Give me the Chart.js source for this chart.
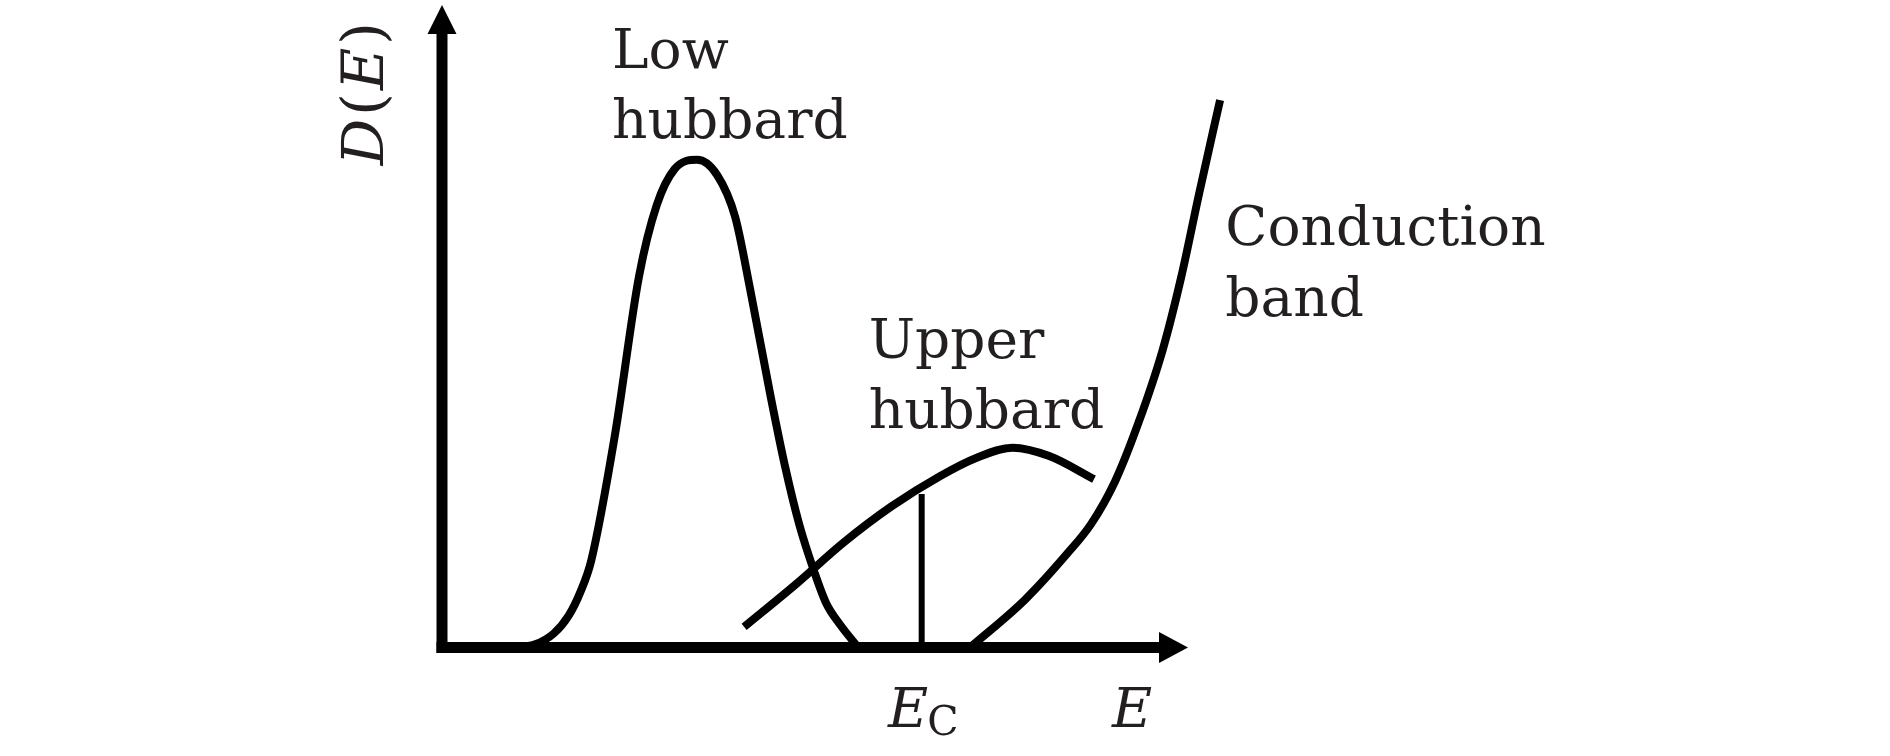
<!DOCTYPE html>
<html>
<head>
<meta charset="utf-8">
<title>D(E) sketch</title>
<script src="https://cdn.jsdelivr.net/npm/chart.js@4.4.0/dist/chart.umd.min.js"></script>
<style>
    html, body { margin: 0; padding: 0; background: #fff; }
</style>
</head>
<body>
<canvas id="dosChart" width="1890" height="756"></canvas>
<script>
// energy (x) and density of states (y), arbitrary units
var lowE = [0.99, 1.25, 1.50, 1.70, 1.85, 2.00, 2.32, 2.64, 2.88, 3.12, 3.42, 3.69, 3.93, 4.13, 4.41, 4.60, 4.79, 4.99, 5.15, 5.34, 5.58];
var lowD = [0, 0.05, 0.22, 0.50, 0.85, 1.35, 3.32, 5.77, 6.89, 7.45, 7.59, 7.35, 6.70, 5.58, 3.88, 2.81, 1.91, 1.18, 0.69, 0.35, 0];

var upperE = [4.05, 4.75, 5.39, 6.03, 6.68, 7.16, 7.65, 8.14, 8.74];
var upperD = [0.32, 0.99, 1.64, 2.20, 2.67, 2.95, 3.11, 2.98, 2.62];

var condE = [7.08, 7.82, 8.38, 8.70, 9.02, 9.34, 9.66, 9.91, 10.15, 10.43];
var condD = [0, 0.75, 1.46, 1.92, 2.58, 3.51, 4.63, 5.77, 7.07, 8.52];

var ecE = [6.43, 6.43];
var ecD = [0, 2.39];

// where the axis arrows end
var axisEndE = 10;
var axisEndD = 10;

function pts(xs, ys) {
    return xs.map(function(v, i) { return {x: v, y: ys[i]}; });
}

var textFont = '55px "DejaVu Serif"';
var mathFont = 'italic 55px "DejaVu Serif"';
var ink = '#231f20';

// labels: anchor in data units (left edge, baseline)
var notes = [
    {text: 'Low', x: 2.28, y: 9.02},
    {text: 'hubbard', x: 2.28, y: 7.93},
    {text: 'Upper', x: 5.72, y: 4.51},
    {text: 'hubbard', x: 5.72, y: 3.42},
    {text: 'Conduction', x: 10.50, y: 6.26},
    {text: 'band', x: 10.50, y: 5.16}
];

var sketchPlugin = {
    id: 'sketch',
    afterDatasetsDraw: function(chart) {
        var ctx = chart.ctx;
        var xs = chart.scales.x, ys = chart.scales.y;
        var x0 = xs.getPixelForValue(0), y0 = ys.getPixelForValue(0);
        var xEnd = xs.getPixelForValue(axisEndE), yEnd = ys.getPixelForValue(axisEndD);

        ctx.save();
        ctx.fillStyle = '#000';
        ctx.strokeStyle = '#000';
        ctx.lineWidth = 11;
        ctx.lineCap = 'butt';

        // y axis with arrow
        ctx.beginPath();
        ctx.moveTo(x0, y0 + 5.5);
        ctx.lineTo(x0, yEnd + 27);
        ctx.stroke();
        ctx.beginPath();
        ctx.moveTo(x0, yEnd);
        ctx.lineTo(x0 - 14.5, yEnd + 29);
        ctx.lineTo(x0 + 14.5, yEnd + 29);
        ctx.closePath();
        ctx.fill();

        // x axis with arrow
        ctx.beginPath();
        ctx.moveTo(x0 - 5.5, y0);
        ctx.lineTo(xEnd - 27, y0);
        ctx.stroke();
        ctx.beginPath();
        ctx.moveTo(xEnd, y0);
        ctx.lineTo(xEnd - 29, y0 - 15.5);
        ctx.lineTo(xEnd - 29, y0 + 15.5);
        ctx.closePath();
        ctx.fill();

        // band labels
        ctx.fillStyle = ink;
        ctx.textAlign = 'left';
        ctx.textBaseline = 'alphabetic';
        ctx.font = textFont;
        notes.forEach(function(n) {
            ctx.fillText(n.text, xs.getPixelForValue(n.x), ys.getPixelForValue(n.y));
        });

        // x axis labels: E_C under the marker, E at the arrow
        var base = ys.getPixelForValue(-1.24);
        var ecX = xs.getPixelForValue(5.98);
        ctx.font = mathFont;
        ctx.fillText('E', ecX, base);
        var w = ctx.measureText('E').width;
        ctx.font = '41px "DejaVu Serif"';
        ctx.fillText('C', ecX + w - 1, base + 8);
        ctx.font = mathFont;
        ctx.fillText('E', xs.getPixelForValue(8.98), base);

        // y axis label D(E), rotated
        var big = 'italic 58px "DejaVu Serif"', bigUp = '58px "DejaVu Serif"';
        var parts = [['D', big], ['(', bigUp], ['E', big], [')', bigUp]];
        var gap = 3, total = -gap;
        parts.forEach(function(p) { ctx.font = p[1]; p.push(ctx.measureText(p[0]).width); total += p[2] + gap; });
        ctx.translate(xs.getPixelForValue(-0.79), ys.getPixelForValue(8.62));
        ctx.rotate(-Math.PI / 2);
        var cx = -total / 2;
        parts.forEach(function(p) {
            ctx.font = p[1];
            ctx.fillText(p[0], cx, 0);
            cx += p[2] + gap;
        });
        ctx.restore();
    }
};

function curve(data, width) {
    return {
        data: data,
        showLine: true,
        borderColor: '#000',
        borderWidth: width,
        pointRadius: 0,
        pointHoverRadius: 0,
        fill: false,
        clip: false,
        cubicInterpolationMode: 'monotone',
        borderCapStyle: 'butt',
        borderJoinStyle: 'round'
    };
}

var ecLine = curve(pts(ecE, ecD), 6);
ecLine.cubicInterpolationMode = 'default';
ecLine.tension = 0;

var ctx = document.getElementById('dosChart').getContext('2d');
var dosChart = new Chart(ctx, {
    type: 'scatter',
    data: {
        datasets: [
            curve(pts(lowE, lowD), 8),
            curve(pts(upperE, upperD), 8),
            curve(pts(condE, condD), 8),
            ecLine
        ]
    },
    options: {
        responsive: false,
        animation: false,
        devicePixelRatio: 1,
        events: [],
        layout: {
            // x runs 0..12 so the conduction band can pass the arrow tip at 10
            padding: {left: 442, right: 552.8, top: 5, bottom: 108.5}
        },
        plugins: {
            legend: {display: false},
            tooltip: {enabled: false}
        },
        scales: {
            x: {type: 'linear', min: 0, max: 12, display: false},
            y: {type: 'linear', min: 0, max: 10, display: false}
        }
    },
    plugins: [sketchPlugin]
});
</script>
</body>
</html>
